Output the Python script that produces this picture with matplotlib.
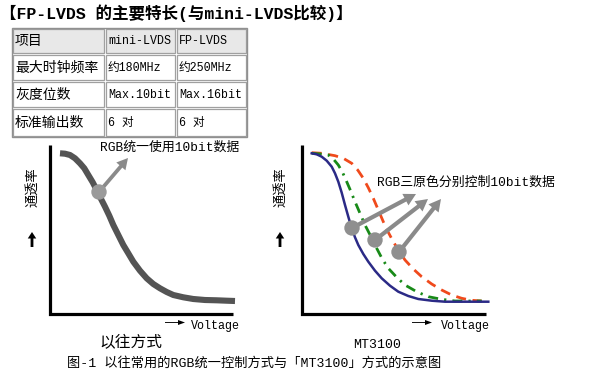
import matplotlib
matplotlib.use("Agg")
import matplotlib.pyplot as plt
from matplotlib.patches import Rectangle, Circle, FancyArrow

plt.rcParams['font.family'] = ['Liberation Mono', 'Noto Sans CJK SC', 'DejaVu Sans']

# ---------------- data ----------------
title = "【FP-LVDS 的主要特长(与mini-LVDS比较)】"
table_header = ["项目", "mini-LVDS", "FP-LVDS"]
table_rows = [
    ["最大时钟频率", "约180MHz", "约250MHz"],
    ["灰度位数", "Max.10bit", "Max.16bit"],
    ["标准输出数", "6 对", "6 对"],
]
col_edges = [12, 105, 176, 247]
row_edges = [28, 54, 81, 108, 137]

# left panel: single transmittance curve (pixel coords)
left_x = [60, 65, 70, 75, 80, 84.3, 88.3, 92.7, 96.7, 100.7, 105, 109.3, 113.3, 118.3,
          123.3, 128.3, 133.3, 140, 146.7, 153.3, 160, 166.7, 173.3, 183.3, 193.3,
          205, 216.7, 226.7, 235]
left_y = [153.3, 153.7, 155, 158.3, 163.3, 168.3, 175, 182.3, 190, 198.3, 206.7, 215.7,
          225, 235, 245, 253.3, 261.7, 270.7, 278.3, 284, 288.3, 292, 295, 297.3, 299,
          300, 300.3, 300.7, 301]
left_marker = (99, 192)
left_arrow_tip = (128, 158)

# right panel: three curves (R, G, B)
blue_x = [311.7, 316.7, 321.7, 326.7, 331.7, 335, 338.3, 341.7, 345, 348.3, 351.7, 355,
          358.3, 363.3, 368.3, 375, 381.7, 390, 398.3, 408.3, 418.3, 431.7, 445, 488.3]
blue_y = [153.3, 154.3, 156.7, 160.7, 166.7, 173.3, 181.7, 192.7, 205, 216.7, 228.3,
          237.3, 245, 254, 261.7, 270.7, 278.3, 285.7, 291.7, 296, 299, 300.7, 301.7, 301.7]
green_x = [311.7, 320, 328.3, 333.3, 338.3, 342.7, 346.7, 351, 355, 360, 365, 371, 376.7,
           382.3, 388.3, 396.7, 405, 416.7, 428.3, 441.7, 455, 481.7]
green_y = [153.3, 154, 155, 159, 165, 172.7, 181.7, 191.7, 201.7, 213.3, 225, 236.7,
           248.3, 259, 268.3, 277.3, 285, 291.7, 296.7, 299.3, 301, 301]
red_x = [311.7, 321.7, 335, 343.3, 351.7, 357.7, 363.3, 368.3, 373.3, 378.3, 383.3, 388.3,
         393.3, 399, 405, 413.3, 421.7, 431.7, 441.7, 451.7, 461.7, 471.7, 481.7]
red_y = [152.7, 153.3, 155.7, 158.3, 163.3, 170, 178.3, 187.7, 198.3, 210, 221.7, 232.3,
         241.7, 251, 260, 269, 276.7, 284, 290, 295, 298.3, 300.3, 301]
right_markers = [(352, 228), (375, 240), (399, 252)]
right_arrow_tips = [(416, 194), (428, 199), (441, 199)]

left_note = "RGB统一使用10bit数据"
right_note = "RGB三原色分别控制10bit数据"
ylabel = "通透率"
xlabel = "Voltage"
left_title = "以往方式"
right_title = "MT3100"
caption = "图-1 以往常用的RGB统一控制方式与「MT3100」方式的示意图"

# ---------------- figure ----------------
W, H = 589, 377
fig = plt.figure(figsize=(W / 100, H / 100), dpi=100)
ax = fig.add_axes([0, 0, 1, 1])
ax.set_xlim(0, W)
ax.set_ylim(H, 0)
ax.axis('off')

# title
ax.text(0, 13, title, fontsize=11.9, fontweight='bold', ha='left', va='center')

# table
cells = [table_header] + table_rows
for r, row in enumerate(cells):
    y0, y1 = row_edges[r], row_edges[r + 1]
    for c, txt in enumerate(row):
        x0, x1 = col_edges[c], col_edges[c + 1]
        fc = '#e8e8e8' if r == 0 else 'white'
        ax.add_patch(Rectangle((x0 + 1, y0 + 1), x1 - x0 - 2, y1 - y0 - 2,
                               facecolor=fc, edgecolor='#a0a0a0', lw=0.9))
        fs = 10 if c == 0 else 8.4
        ax.text(x0 + 3, (y0 + y1) / 2 + 0.5, txt, fontsize=fs, ha='left', va='center')
ax.add_patch(Rectangle((col_edges[0], row_edges[0]), col_edges[-1] - col_edges[0],
                       row_edges[-1] - row_edges[0], fill=False, edgecolor='#909090', lw=1))


def panel(x_axis, y_top, y_bot, x_end, lab_x, volt_arrow_x, volt_text_x):
    ax.plot([x_axis, x_axis, x_end], [y_top, y_bot, y_bot], color='black', lw=2.3,
            solid_joinstyle='miter', solid_capstyle='butt')
    ax.text(lab_x, 187, ylabel, rotation=90, fontsize=9.5, ha='center', va='center')
    ax.add_patch(FancyArrow(lab_x - 1, 247, 0, -15, width=2.8, head_width=8.5,
                            head_length=6.5, length_includes_head=True,
                            color='black', lw=0))
    ax.add_patch(FancyArrow(volt_arrow_x, 322.5, 20, 0, width=0.9, head_width=5,
                            head_length=7, length_includes_head=True,
                            color='black', lw=0))
    ax.text(volt_text_x, 326, xlabel, fontsize=8.4, ha='left', va='center')


panel(50, 145, 314, 233, 33, 165, 191)
panel(302, 145, 314, 486, 281, 412, 441)

# left curve
ax.plot(left_x, left_y, color='#545454', lw=4.4, solid_capstyle='butt', solid_joinstyle='round')
lx, ly = left_marker
tx, ty = left_arrow_tip
ax.add_patch(FancyArrow(lx, ly, tx - lx, ty - ly, width=3.8, head_width=12, head_length=11,
                        length_includes_head=True, color='#8a8a8a', lw=0))
ax.add_patch(Circle(left_marker, 7, color='#9a9a9a', zorder=5))
ax.text(100, 148, left_note, fontsize=9.3, ha='left', va='center')

# right curves
ax.plot(red_x, red_y, color='#f04a1c', lw=2.0, dashes=(3.6, 2.4))
ax.plot(green_x, green_y, color='#188a18', lw=2.0, dashes=(3.6, 2.2, 0.8, 2.2))
ax.plot(blue_x, blue_y, color='#2b2a86', lw=1.8, solid_joinstyle='round')
for (mx, my), (tx, ty) in zip(right_markers, right_arrow_tips):
    ax.add_patch(FancyArrow(mx, my, tx - mx, ty - my, width=4.2, head_width=13,
                            head_length=12, length_includes_head=True,
                            color='#8a8a8a', lw=0, zorder=4))
    ax.add_patch(Circle((mx, my), 7, color='#8f8f8f', zorder=5))
ax.text(377, 183, right_note, fontsize=9.3, ha='left', va='center')

# panel titles and caption
ax.text(131, 343, left_title, fontsize=11.3, ha='center', va='center')
ax.text(377, 345, right_title, fontsize=9.5, ha='center', va='center')
ax.text(67, 363, caption, fontsize=9.5, ha='left', va='center')

fig.savefig('out.png', dpi=100)
